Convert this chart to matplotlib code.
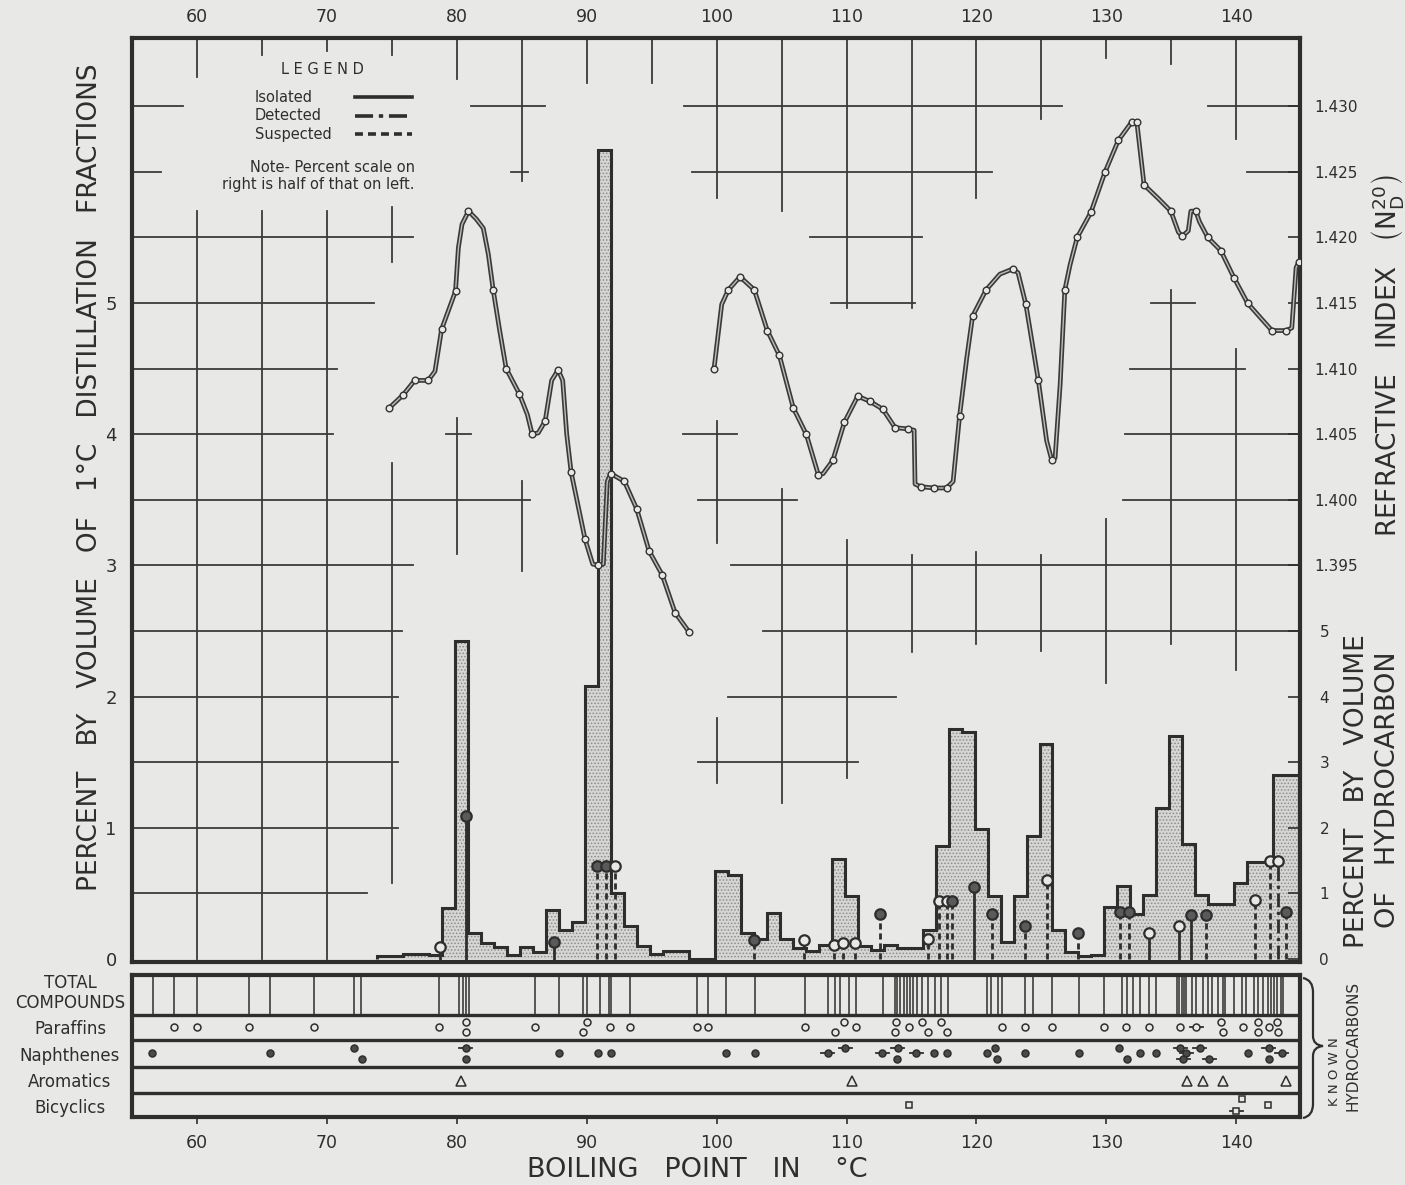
import numpy as np
import matplotlib
matplotlib.use('Agg')
import matplotlib.pyplot as plt
from matplotlib.lines import Line2D
from matplotlib.path import Path
from matplotlib.patches import PathPatch

W, H = 1405, 1185
PAPER = '#e8e8e6'
INK = '#2e2e2e'

# ---------------- data ----------------
# 1 degC distillation fractions: lower boiling limit and percent by volume
frac_bp = list(range(74, 145))
frac_pct = [0.02, 0.02, 0.04, 0.04, 0.03, 0.39, 2.42, 0.20, 0.12, 0.09,
            0.03, 0.09, 0.05, 0.37, 0.22, 0.28, 2.08, 6.17, 0.50, 0.25,
            0.10, 0.04, 0.06, 0.06, 0.0, 0.0, 0.67, 0.64, 0.20, 0.15,
            0.35, 0.15, 0.08, 0.06, 0.11, 0.76, 0.48, 0.10, 0.07, 0.11,
            0.08, 0.08, 0.22, 0.86, 1.75, 1.73, 0.99, 0.48, 0.13, 0.48,
            0.94, 1.64, 0.22, 0.05, 0.02, 0.03, 0.40, 0.56, 0.34, 0.49,
            1.15, 1.70, 0.88, 0.49, 0.42, 0.42, 0.58, 0.74, 0.74, 1.40,
            1.40]

# refractive index curves (1 = measured point with marker)
ri1_bp = [74.8, 75.87, 76.76, 77.8, 78.32, 78.83, 79.9, 80.12, 80.4, 80.9,
          81.5, 82.04, 82.43, 82.8, 83.3, 83.8, 84.8, 85.43, 85.8, 86.27,
          86.8, 87.3, 87.8, 88.15, 88.46, 88.8, 89.87, 90.46, 90.9, 91.28,
          91.58, 91.85, 92.9, 93.85, 94.8, 95.8, 96.8, 97.9]
ri1_nd = [1.4070, 1.4080, 1.4091, 1.4091, 1.4098, 1.4130, 1.4159, 1.4192, 1.4210, 1.4220,
          1.4214, 1.4207, 1.4187, 1.4160, 1.4129, 1.4100, 1.4081, 1.4065, 1.4050, 1.4051,
          1.4060, 1.4091, 1.4099, 1.4091, 1.4050, 1.4021, 1.3970, 1.3951, 1.3950, 1.3951,
          1.4014, 1.4020, 1.4014, 1.3993, 1.3961, 1.3943, 1.3914, 1.3899]
ri1_meas = [1, 1, 1, 1, 0, 1, 1, 0, 0, 1,
            0, 0, 0, 1, 0, 1, 1, 0, 1, 0,
            1, 0, 1, 0, 0, 1, 1, 0, 1, 0,
            0, 1, 1, 1, 1, 1, 1, 1]

ri2_bp = [99.8, 100.39, 100.9, 101.8, 102.9, 103.9, 104.83, 105.9, 106.9, 107.83,
          108.2, 108.94, 109.83, 110.86, 111.8, 112.8, 113.73, 114.76, 115.2, 115.27,
          115.7, 116.73, 117.7, 118.2, 118.7, 119.25, 119.7, 120.74, 121.8, 122.8,
          123.2, 123.8, 124.76, 125.4, 125.8, 126.05, 126.44, 126.8, 127.2, 127.75,
          128.8, 129.9, 130.92, 131.95, 132.34, 132.9, 133.96, 134.96, 135.54, 135.85,
          136.3, 136.5, 136.88, 137.16, 137.8, 138.8, 139.83, 140.86, 141.84, 142.74,
          143.83, 144.27, 144.6, 144.8]
ri2_nd = [1.4100, 1.4149, 1.4160, 1.4170, 1.4160, 1.4129, 1.4110, 1.4070, 1.4050, 1.4019,
          1.4020, 1.4030, 1.4059, 1.4079, 1.4075, 1.4069, 1.4055, 1.4054, 1.4053, 1.4012,
          1.4010, 1.4009, 1.4009, 1.4014, 1.4064, 1.4108, 1.4140, 1.4160, 1.4172, 1.4176,
          1.4173, 1.4149, 1.4091, 1.4045, 1.4030, 1.4032, 1.4088, 1.4160, 1.4179, 1.4200,
          1.4219, 1.4250, 1.4274, 1.4288, 1.4288, 1.4240, 1.4230, 1.4220, 1.4204, 1.4201,
          1.4205, 1.4220, 1.4220, 1.4212, 1.4200, 1.4190, 1.4169, 1.4150, 1.4139, 1.4129,
          1.4129, 1.4131, 1.4177, 1.4181]
ri2_meas = [1, 0, 1, 1, 1, 1, 1, 1, 1, 1,
            0, 1, 1, 1, 1, 1, 1, 1, 0, 0,
            1, 1, 1, 0, 1, 0, 1, 1, 0, 1,
            0, 1, 1, 0, 1, 0, 0, 1, 0, 1,
            1, 1, 1, 1, 1, 1, 0, 1, 0, 1,
            0, 0, 1, 0, 1, 1, 1, 1, 0, 1,
            1, 0, 0, 1]

# individual hydrocarbons: boiling point, percent by volume of hydrocarbon
hc_bp = [78.7, 80.7, 87.5, 90.8, 91.5, 92.2, 102.9, 106.7, 109.0, 109.7,
         110.65, 112.6, 116.3, 117.15, 117.7, 118.15, 119.8, 121.2, 123.7, 125.4,
         127.85, 131.05, 131.7, 133.3, 135.6, 136.5, 137.7, 141.45, 142.6, 143.2, 143.8]
hc_pct = [0.18, 2.18, 0.26, 1.42, 1.42, 1.42, 0.29, 0.29, 0.22, 0.24,
          0.24, 0.68, 0.30, 0.88, 0.88, 0.88, 1.10, 0.68, 0.50, 1.20,
          0.40, 0.72, 0.72, 0.40, 0.50, 0.67, 0.67, 0.90, 1.50, 1.50, 0.72]
hc_kind = ['P', 'N', 'N', 'N', 'N', 'P', 'N', 'P', 'P', 'P',
           'P', 'N', 'P', 'P', 'P', 'N', 'N', 'N', 'N', 'P',
           'N', 'N', 'N', 'P', 'P', 'N', 'N', 'P', 'P', 'P', 'N']
hc_status = ['Isolated', 'Isolated', 'Isolated', 'Suspected', 'Suspected', 'Suspected',
             'Suspected', 'Suspected', 'Suspected', 'Suspected', 'Suspected', 'Suspected',
             'Suspected', 'Suspected', 'Suspected', 'Suspected', 'Isolated', 'Suspected',
             'Suspected', 'Suspected', 'Suspected', 'Suspected', 'Suspected', 'Isolated',
             'Isolated', 'Isolated', 'Suspected', 'Suspected', 'Suspected', 'Detected',
             'Suspected']

# known hydrocarbons strip
total_bp = [56.6, 58.2, 60.0, 64.0, 65.6, 69.0, 72.1, 72.6, 78.6, 80.2,
            80.45, 80.7, 80.95, 86.0, 87.9, 89.7, 90.0, 91.0, 91.7, 91.9,
            93.3, 98.45, 99.3, 100.7, 102.95, 106.8, 108.6, 109.1, 109.5, 110.2,
            110.75, 112.8, 113.7, 113.9, 114.15, 114.4, 114.65, 114.9, 115.15, 115.4,
            115.8, 116.3, 116.8, 117.3, 117.8, 120.8, 121.15, 121.65, 122.0, 123.75,
            124.35, 125.8, 127.9, 129.8, 131.2, 131.55, 132.05, 132.6, 133.3, 133.8,
            135.4, 135.6, 135.8, 135.95, 136.1, 136.55, 136.9, 137.45, 137.8, 138.15,
            138.6, 139.0, 139.15, 139.8, 140.4, 140.75, 141.35, 141.7, 142.05, 142.4,
            142.65, 142.9, 143.15, 143.4, 143.6]
paraffin_bp = [58.2, 60.0, 64.0, 69.0, 78.6, 80.7, 80.7, 86.0, 89.7, 90.0,
               91.8, 93.3, 98.45, 99.3, 106.8, 109.1, 109.8, 110.75, 113.7, 113.8,
               114.8, 115.8, 116.3, 117.3, 117.7, 122.0, 123.75, 125.8, 129.8, 131.5,
               133.3, 135.7, 136.9, 138.8, 139.0, 140.55, 141.65, 141.65, 142.5, 143.1, 143.2]
paraffin_lvl = [0, 0, 0, 0, 0, 1, -1, 0, -1, 1,
                0, 0, 0, 0, 0, -1, 1, 0, -1, 1,
                0, 1, -1, 1, -1, 0, 0, 0, 0, 0,
                0, 0, 0, 1, -1, 0, 1, -1, 0, 1, -1]
paraffin_rng = [0] * 32 + [1] + [0] * 8
naphthene_bp = [56.55, 65.6, 72.1, 72.7, 80.7, 80.7, 87.9, 90.9, 91.9, 100.7,
                102.95, 108.55, 109.9, 112.75, 113.95, 113.9, 115.35, 116.75, 117.7, 120.8,
                121.4, 121.55, 123.75, 127.9, 131.0, 131.55, 132.6, 133.8, 135.7, 136.15,
                137.2, 135.9, 137.9, 140.9, 142.5, 142.5, 143.5]
naphthene_lvl = [0, 0, 1, -1, 1, -1, 0, 0, 0, 0,
                 0, 0, 1, 0, 1, -1, 0, 0, 0, 0,
                 1, -1, 0, 0, 1, -1, 0, 0, 1, 0,
                 1, -1, -1, 0, 1, -1, 0]
naphthene_rng = [0, 0, 0, 0, 1, 0, 0, 0, 0, 0,
                 0, 1, 1, 1, 1, 0, 1, 0, 0, 0,
                 0, 0, 0, 0, 0, 0, 0, 0, 1, 1,
                 1, 1, 1, 0, 1, 0, 1]
aromatic_bp = [80.35, 110.4, 136.2, 137.4, 139.0, 143.85]
bicyclic_bp = [114.8, 140.45, 140.0, 142.4]
bicyclic_lvl = [0, 1, -1, 0]
bicyclic_rng = [0, 0, 1, 0]

x_ticks = list(range(60, 141, 10))
ri_ticks = [1.395, 1.400, 1.405, 1.410, 1.415, 1.420, 1.425, 1.430]
hc_ticks = [0, 1, 2, 3, 4, 5]

# partial grid of the original sheet (y in left-scale units)
grid_h = [(6.5, 55, 58.9), (6.5, 81.1, 86.8), (6.5, 97.5, 126.6), (6.5, 137.8, 144.9),
          (6.0, 55, 57.2), (6.0, 84.2, 85.5), (6.0, 98.1, 121.2), (6.0, 140.8, 144.9),
          (5.5, 55, 76.6), (5.5, 107.2, 115.8),
          (5.0, 55, 73.6), (5.0, 108.8, 115.3), (5.0, 133.4, 136.8),
          (4.5, 55, 70.8), (4.5, 131.8, 140.7),
          (4.0, 55, 70.5), (4.0, 79.2, 81.1), (4.0, 97.4, 101.6), (4.0, 131.4, 144.9),
          (3.5, 55, 85.6), (3.5, 98.6, 106.2), (3.5, 131.3, 144.9),
          (3.0, 55, 76.6), (3.0, 101.1, 144.9),
          (2.5, 55, 75.8), (2.5, 103.6, 144.9),
          (2.0, 55, 75.5), (2.0, 100.9, 113.8),
          (1.5, 55, 75.5), (1.5, 98.6, 110.9),
          (1.0, 55, 75.5), (0.5, 55, 73.1)]
grid_v = [(60, 6.72, 7.05), (60, 0, 5.7), (65, 6.89, 7.05), (65, 0, 5.7),
          (70, 6.92, 7.05), (70, 0, 5.7), (75, 6.89, 7.05), (75, 5.31, 5.73),
          (75, 0.58, 3.78), (80, 6.71, 7.05), (80, 3.09, 4.12), (85, 5.93, 7.05),
          (85, 2.96, 3.64), (90, 6.68, 7.05), (95, 6.68, 7.05),
          (100, 5.8, 7.05), (100, 3.17, 4.10), (100, 1.34, 1.84),
          (105, 5.7, 7.05), (105, 1.19, 3.58), (110, 4.96, 7.05), (110, 1.38, 3.19),
          (115, 4.96, 7.05), (115, 2.34, 3.08), (120, 5.8, 7.05), (120, 2.4, 3.1),
          (125, 6.4, 7.05), (125, 2.35, 3.08), (130, 6.87, 7.05), (130, 2.1, 3.35),
          (135, 6.82, 7.05), (135, 2.4, 5.1), (140, 6.25, 7.05), (140, 2.2, 4.65)]

# ---------------- figure ----------------
plt.rcParams['font.family'] = 'DejaVu Sans'
plt.rcParams['hatch.linewidth'] = 0.7


def fx(px):
    return px / W


def fy(py):
    return 1 - py / H


def ptext(px, py, s, **kw):
    kw.setdefault('color', INK)
    kw.setdefault('ha', 'center')
    kw.setdefault('va', 'center')
    fig.text(fx(px), fy(py), s, **kw)


fig = plt.figure(figsize=(W / 100, H / 100), dpi=100, facecolor=PAPER)

ylo, yhi = -0.023, 7.02
xlo, xhi = 55.0, 144.9

ax = fig.add_axes([fx(132), fy(962), fx(1300) - fx(132), fy(38) - fy(962)])
ax.set_facecolor(PAPER)
ax.set_xlim(xlo, xhi)
ax.set_ylim(ylo, yhi)
for s in ax.spines.values():
    s.set_linewidth(3)
    s.set_color(INK)

for y, x0, x1 in grid_h:
    ax.plot([x0, x1], [y, y], color='#3b3b3b', lw=1.3, zorder=1)
for x, y0, y1 in grid_v:
    ax.plot([x, x], [y0, y1], color='#3b3b3b', lw=1.3, zorder=1)

edges = np.append(np.array(frac_bp) - 0.15, frac_bp[-1] + 0.85)
ax.stairs(frac_pct, edges, baseline=0, fill=True, facecolor='#d6d6d4',
          edgecolor='#8c8c8a', hatch='.....', linewidth=0, zorder=2)
ax.stairs(frac_pct, edges, baseline=0, fill=False, color=INK, linewidth=2.2, zorder=3)

ax.set_xticks(x_ticks)
ax.tick_params(axis='x', top=True, labeltop=True, bottom=False, labelbottom=False,
               length=0, pad=9, labelsize=12.5, labelcolor=INK)
ax.set_yticks(range(6))
ax.tick_params(axis='y', length=0, pad=11, labelsize=13, labelcolor=INK)

# refractive index scale
axr = ax.twinx()
axr.set_ylim(1.365 + ylo / 100, 1.365 + yhi / 100)
axr.set_xlim(xlo, xhi)
axr.set_yticks(ri_ticks)
axr.set_yticklabels(['%.3f' % v for v in ri_ticks])
axr.tick_params(axis='y', direction='in', length=9, width=1.2, color=INK,
                pad=10, labelsize=11, labelcolor=INK)
for s in axr.spines.values():
    s.set_visible(False)

for bp, nd, meas in ((ri1_bp, ri1_nd, ri1_meas), (ri2_bp, ri2_nd, ri2_meas)):
    axr.plot(bp, nd, color='#3a3a3a', lw=3.4, solid_capstyle='round',
             solid_joinstyle='round', zorder=5)
    axr.plot(bp, nd, color='#bdbdbb', lw=1.0, zorder=6)
    mx = [b for b, m in zip(bp, meas) if m]
    my = [n for n, m in zip(nd, meas) if m]
    axr.plot(mx, my, 'o', ms=4.8, mfc=PAPER, mec='#333333', mew=1.0, zorder=7)

# percent by volume of hydrocarbon scale (half of the left one)
axp = ax.twinx()
axp.set_ylim(2 * ylo, 2 * yhi)
axp.set_xlim(xlo, xhi)
axp.set_yticks(hc_ticks)
axp.tick_params(axis='y', direction='in', length=9, width=1.2, color=INK,
                pad=14, labelsize=11, labelcolor=INK)
for s in axp.spines.values():
    s.set_visible(False)

stem_style = {'Isolated': '-', 'Detected': (0, (5, 1.6, 1.2, 1.6)),
              'Suspected': (0, (2.2, 1.4))}
for x, v, kind, st in zip(hc_bp, hc_pct, hc_kind, hc_status):
    axp.plot([x, x], [0, v], color=INK, lw=2.0, linestyle=stem_style[st], zorder=4)
    axp.plot(x, v, 'o', ms=7.5, mfc='#5a5a5a' if kind == 'N' else PAPER,
             mec=INK, mew=1.6, zorder=5)

# legend block
ptext(322, 70, 'L E G E N D', fontsize=10.5)
for i, st in enumerate(['Isolated', 'Detected', 'Suspected']):
    py = 97 + i * 18.5
    ptext(255, py, st, fontsize=10.5, ha='left')
    fig.add_artist(Line2D([fx(355), fx(412)], [fy(py), fy(py)], color=INK, lw=2.6,
                          linestyle=stem_style[st], transform=fig.transFigure))
ptext(415, 167, 'Note- Percent scale on', fontsize=10.5, ha='right')
ptext(415, 184, 'right is half of that on left.', fontsize=10.5, ha='right')

# known hydrocarbons strip
axl = fig.add_axes([fx(132), fy(1117), fx(1300) - fx(132), fy(975) - fy(1117)])
axl.set_facecolor(PAPER)
axl.set_xlim(xlo, xhi)
axl.set_ylim(142, 0)
for s in axl.spines.values():
    s.set_linewidth(3)
    s.set_color(INK)
for yy in (40, 65, 92, 118):
    axl.axhline(yy, color=INK, lw=2.4)
axl.vlines(total_bp, 2, 38.5, color=INK, lw=1.1)


def strip_marks(xs, lvls, rngs, center, step, marker, ms, filled):
    for x, lv, rg in zip(xs, lvls, rngs):
        yy = center - lv * step
        if rg:
            axl.plot([x - 0.5, x + 0.5], [yy, yy], color=INK, lw=1.3, zorder=3)
        axl.plot(x, yy, marker, ms=ms, mfc='#4a4a4a' if filled else PAPER,
                 mec=INK, mew=1.1, zorder=4)


strip_marks(paraffin_bp, paraffin_lvl, paraffin_rng, 52, 5, 'o', 5, False)
strip_marks(naphthene_bp, naphthene_lvl, naphthene_rng, 78, 5.5, 'o', 5, True)
strip_marks(aromatic_bp, [0] * len(aromatic_bp), [0] * len(aromatic_bp), 106, 0, '^', 6.5, False)
strip_marks(bicyclic_bp, bicyclic_lvl, bicyclic_rng, 130, 6, 's', 5, False)

axl.set_yticks([])
axl.set_xticks(x_ticks)
axl.tick_params(axis='x', direction='out', length=5, width=1.2, color=INK,
                pad=7, labelsize=12.5, labelcolor=INK)

for lab, py in [('TOTAL', 983), ('COMPOUNDS', 1003), ('Paraffins', 1029),
                ('Naphthenes', 1056), ('Aromatics', 1082), ('Bicyclics', 1108)]:
    ptext(70, py, lab, fontsize=12)

# brace and side label of the strip
brace = Path([(fx(1303), fy(978)), (fx(1313), fy(980)), (fx(1313), fy(992)),
              (fx(1313), fy(1036)), (fx(1313), fy(1045)), (fx(1323), fy(1046)),
              (fx(1313), fy(1047)), (fx(1313), fy(1056)), (fx(1313), fy(1104)),
              (fx(1313), fy(1116)), (fx(1303), fy(1118))],
             [Path.MOVETO, Path.CURVE3, Path.CURVE3, Path.LINETO, Path.CURVE3,
              Path.CURVE3, Path.CURVE3, Path.CURVE3, Path.LINETO, Path.CURVE3, Path.CURVE3])
fig.add_artist(PathPatch(brace, fill=False, edgecolor=INK, lw=1.6,
                         transform=fig.transFigure))
ptext(1335, 1072, 'K N O W N', fontsize=9.5, rotation=90)
ptext(1353, 1046, 'HYDROCARBONS', fontsize=11, rotation=90)

# axis titles
ptext(90, 477, 'PERCENT   BY   VOLUME   OF   1°C   DISTILLATION   FRACTIONS',
      fontsize=19, rotation=90)
ptext(697, 1170, 'BOILING   POINT   IN    °C', fontsize=19.5)
ptext(1387, 356, r'REFRACTIVE   INDEX   $\left(\mathregular{N}_{\mathregular{D}}^{\mathregular{20}}\right)$',
      fontsize=19, rotation=90)
ptext(1357, 791, 'PERCENT   BY   VOLUME', fontsize=19, rotation=90)
ptext(1388, 790, 'OF   HYDROCARBON', fontsize=19.5, rotation=90)

fig.savefig('out.png', dpi=100, facecolor=PAPER)
